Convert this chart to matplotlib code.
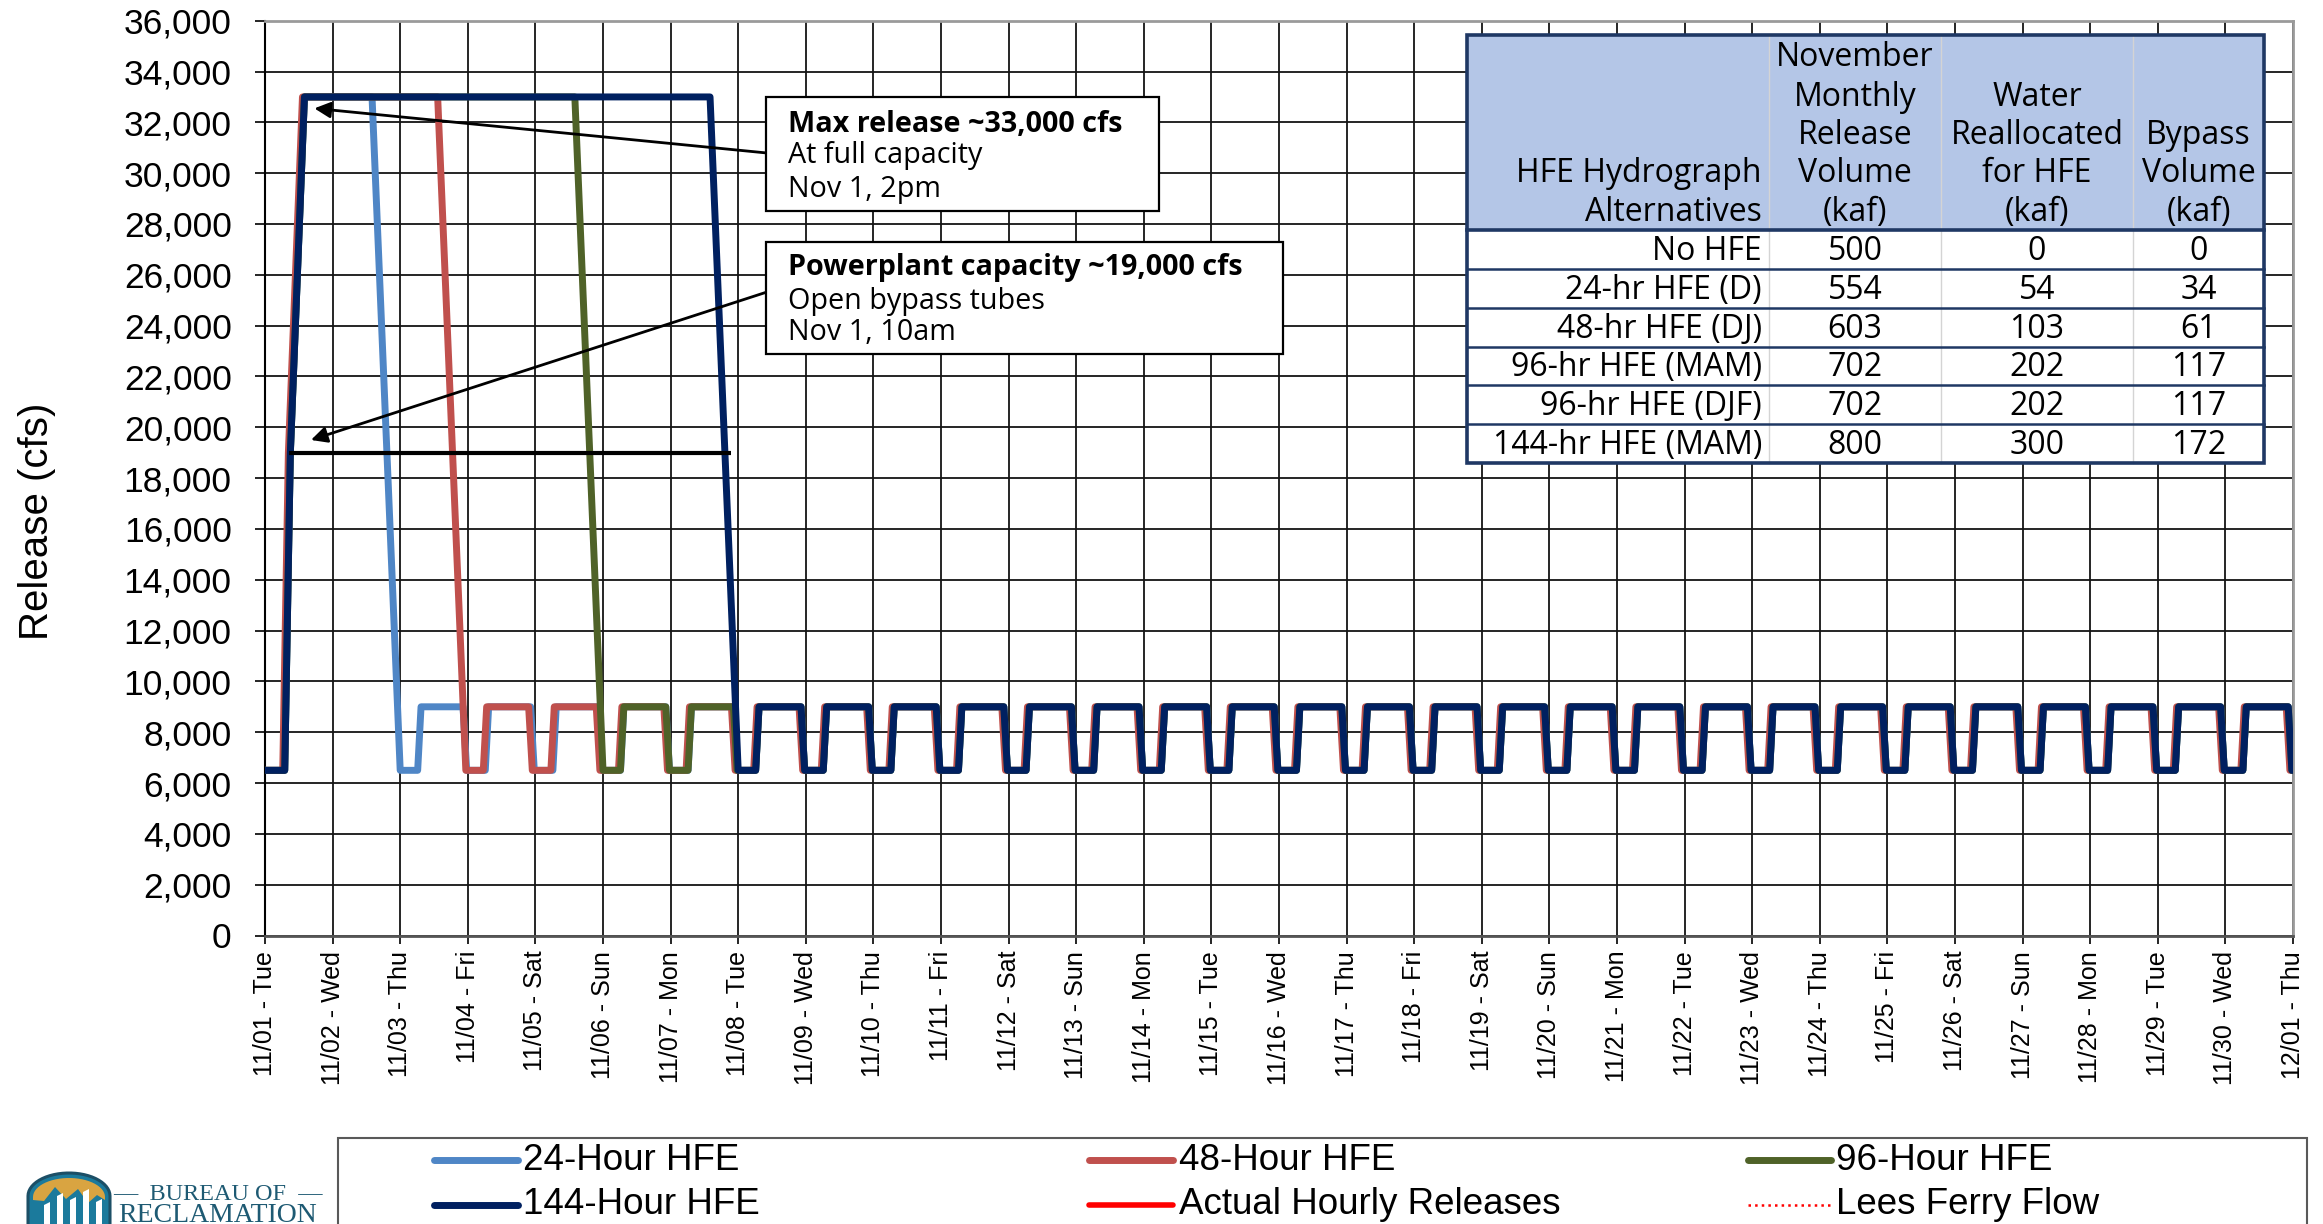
import numpy as np
import matplotlib
matplotlib.use("Agg")
import matplotlib.pyplot as plt
from matplotlib.patches import Rectangle, Polygon
from matplotlib.lines import Line2D
from matplotlib.ticker import FuncFormatter

# ---------------------------------------------------------------- data
N_DAYS = 30
DAY_TICK_LABELS = [
    "11/01 - Tue", "11/02 - Wed", "11/03 - Thu", "11/04 - Fri", "11/05 - Sat",
    "11/06 - Sun", "11/07 - Mon", "11/08 - Tue", "11/09 - Wed", "11/10 - Thu",
    "11/11 - Fri", "11/12 - Sat", "11/13 - Sun", "11/14 - Mon", "11/15 - Tue",
    "11/16 - Wed", "11/17 - Thu", "11/18 - Fri", "11/19 - Sat", "11/20 - Sun",
    "11/21 - Mon", "11/22 - Tue", "11/23 - Wed", "11/24 - Thu", "11/25 - Fri",
    "11/26 - Sat", "11/27 - Sun", "11/28 - Mon", "11/29 - Tue", "11/30 - Wed",
    "12/01 - Thu",
]

# normal daily fluctuation outside the HFE window (hour of day, cfs)
DAY_PROFILE_HOURS = [0.0, 6.2, 7.4, 22.3, 23.6]
DAY_PROFILE_CFS = [6500, 6500, 9000, 9000, 6500]

# ramp-up on Nov 1 (hours after midnight, cfs): bypass tubes open at ~19,000
RAMP_UP_HOURS = [0.0, 7.0, 9.0, 14.0]
RAMP_UP_CFS = [6500, 6500, 19000, 33000]
PEAK_CFS = 33000

SERIES_NAMES = ["24-Hour HFE", "48-Hour HFE", "96-Hour HFE", "144-Hour HFE"]
SERIES_PEAK_HOURS = [24, 48, 96, 144]
SERIES_TIME_OFFSET_H = [0.0, -0.7, 0.0, 0.0]
SERIES_COLORS = ["#4F86C6", "#C0504D", "#4F6228", "#002060"]

EXTRA_LEGEND_NAMES = ["Actual Hourly Releases", "Lees Ferry Flow"]

POWERPLANT_CFS = 19000
POWERPLANT_LINE_DAYS = [0.36, 6.9]

TABLE_ROW_LABELS = ["No HFE", "24-hr HFE (D)", "48-hr HFE (DJ)",
                    "96-hr HFE (MAM)", "96-hr HFE (DJF)", "144-hr HFE (MAM)"]
MONTHLY_RELEASE_KAF = [500, 554, 603, 702, 702, 800]
REALLOCATED_KAF = [0, 54, 103, 202, 202, 300]
BYPASS_KAF = [0, 34, 61, 117, 117, 172]
TABLE_HEADERS = [
    ["", "", "", "HFE Hydrograph", "Alternatives"],
    ["November", "Monthly", "Release", "Volume", "(kaf)"],
    ["", "Water", "Reallocated", "for HFE", "(kaf)"],
    ["", "", "Bypass", "Volume", "(kaf)"],
]


def hfe_trace(peak_hours, offset_h):
    t = list(RAMP_UP_HOURS)
    q = list(RAMP_UP_CFS)
    peak_end = RAMP_UP_HOURS[-1] + peak_hours
    t.append(peak_end)
    q.append(PEAK_CFS)
    first_day = int(np.ceil(peak_end / 24.0))
    for d in range(first_day, N_DAYS):
        for h, v in zip(DAY_PROFILE_HOURS, DAY_PROFILE_CFS):
            t.append(d * 24 + h)
            q.append(v)
    t.append(N_DAYS * 24)
    q.append(DAY_PROFILE_CFS[0])
    return (np.array(t) + offset_h) / 24.0, np.array(q)


# ---------------------------------------------------------------- figure
W, H = 2323, 1224
fig = plt.figure(figsize=(W / 100, H / 100), dpi=100)
fig.patch.set_facecolor("white")


def fx(px):
    return px / W


def fy(py):
    return 1 - py / H


SANS = ["Liberation Sans", "DejaVu Sans"]
CAL = ["Open Sans", "DejaVu Sans"]
SERIF = ["Liberation Serif", "DejaVu Serif"]

ax = fig.add_axes([fx(265), fy(935.5), fx(2293) - fx(265), fy(20.7) - fy(935.5)])

for name, hrs, off, col in zip(SERIES_NAMES, SERIES_PEAK_HOURS,
                               SERIES_TIME_OFFSET_H, SERIES_COLORS):
    x, q = hfe_trace(hrs, off)
    ax.plot(x, q, color=col, lw=5.0, solid_joinstyle="round",
            solid_capstyle="round", label=name, zorder=3)

ax.plot(POWERPLANT_LINE_DAYS, [POWERPLANT_CFS] * 2, color="black", lw=3.0,
        solid_capstyle="butt", zorder=4)

ax.set_xlim(0, N_DAYS)
ax.set_ylim(0, 36000)
ax.set_yticks(np.arange(0, 36001, 2000))
ax.yaxis.set_major_formatter(FuncFormatter(lambda v, p: f"{v:,.0f}"))
ax.set_xticks(np.arange(0, N_DAYS + 1))
ax.set_xticklabels(DAY_TICK_LABELS, rotation=90, family=SANS, fontsize=18)
for lab in ax.get_yticklabels():
    lab.set_family(SANS)
ax.tick_params(axis="y", labelsize=25.5, length=7, width=1.2, pad=17,
               direction="out", colors="black")
ax.tick_params(axis="x", length=6, width=1.2, pad=5, direction="out")
ax.grid(True, color="#141414", lw=1.3)
ax.set_axisbelow(True)
for side in ("top", "right"):
    ax.spines[side].set_color("#9a9a9a")
    ax.spines[side].set_linewidth(2.0)
ax.spines["left"].set_color("black")
ax.spines["left"].set_linewidth(1.5)
ax.spines["bottom"].set_color("#555555")
ax.spines["bottom"].set_linewidth(2.0)

fig.text(fx(37), fy(521), "Release (cfs)", rotation=90, ha="center",
         va="center", fontsize=29, family=SANS)

# ---------------------------------------------------------------- callouts
def callout(left, top, right, bottom, lines):
    fig.add_artist(Rectangle((fx(left), fy(bottom)), fx(right) - fx(left),
                             fy(top) - fy(bottom), transform=fig.transFigure,
                             facecolor="white", edgecolor="black", lw=1.6,
                             zorder=5))
    for (py, txt, bold) in lines:
        fig.text(fx(left + 22), fy(py), txt, ha="left", va="center",
                 fontsize=20.7, family=CAL,
                 fontweight="bold" if bold else "normal", zorder=6)


callout(766, 97, 1159, 210.5, [(124, "Max release ~33,000 cfs", True),
                              (156, "At full capacity", False),
                              (189, "Nov 1, 2pm", False)])
callout(766, 242, 1283, 354, [(268, "Powerplant capacity ~19,000 cfs", True),
                             (301, "Open bypass tubes", False),
                             (333, "Nov 1, 10am", False)])

arrow = dict(arrowstyle="-|>", color="black", lw=2.0, mutation_scale=24,
             shrinkA=0, shrinkB=0)
ax.annotate("", xy=(0.73, 32550), xytext=(fx(767), fy(153)),
            textcoords="figure fraction", arrowprops=arrow,
            annotation_clip=False, zorder=7)
ax.annotate("", xy=(0.68, 19500), xytext=(fx(767), fy(292)),
            textcoords="figure fraction", arrowprops=arrow,
            annotation_clip=False, zorder=7)

# ---------------------------------------------------------------- table
col_edges = [1467, 1769, 1941, 2133, 2264]
t_top, t_head, t_bot = 35, 230, 463
row_edges = np.linspace(t_head, t_bot, len(TABLE_ROW_LABELS) + 1)
NAVY = "#1F3864"
TFS = 23

fig.add_artist(Rectangle((fx(col_edges[0]), fy(t_bot)),
                         fx(col_edges[-1]) - fx(col_edges[0]),
                         fy(t_top) - fy(t_bot), transform=fig.transFigure,
                         facecolor="white", edgecolor="none", zorder=5))
fig.add_artist(Rectangle((fx(col_edges[0]), fy(t_head)),
                         fx(col_edges[-1]) - fx(col_edges[0]),
                         fy(t_top) - fy(t_head), transform=fig.transFigure,
                         facecolor="#B4C6E7", edgecolor="none", zorder=5))
for cx in col_edges[1:-1]:
    fig.add_artist(Line2D([fx(cx)] * 2, [fy(t_top), fy(t_bot)],
                          transform=fig.transFigure, color="#D4D4D4",
                          lw=1.0, zorder=5.5))
for ry in row_edges[1:-1]:
    fig.add_artist(Line2D([fx(col_edges[0]), fx(col_edges[-1])], [fy(ry)] * 2,
                          transform=fig.transFigure, color=NAVY, lw=1.8,
                          zorder=5.6))
fig.add_artist(Line2D([fx(col_edges[0]), fx(col_edges[-1])], [fy(t_head)] * 2,
                      transform=fig.transFigure, color=NAVY, lw=2.6, zorder=5.6))
fig.add_artist(Rectangle((fx(col_edges[0]), fy(t_bot)),
                         fx(col_edges[-1]) - fx(col_edges[0]),
                         fy(t_top) - fy(t_bot), transform=fig.transFigure,
                         facecolor="none", edgecolor=NAVY, lw=2.6, zorder=5.7))

head_lines_y = [58, 97, 135, 173, 212]
for ci, col_lines in enumerate(TABLE_HEADERS):
    for py, txt in zip(head_lines_y, col_lines):
        if not txt:
            continue
        if ci == 0:
            fig.text(fx(col_edges[1] - 7), fy(py), txt, ha="right",
                     va="center", fontsize=TFS, family=CAL, zorder=6)
        else:
            fig.text(fx((col_edges[ci] + col_edges[ci + 1]) / 2), fy(py), txt,
                     ha="center", va="center", fontsize=TFS, family=CAL,
                     zorder=6)

for i, lab in enumerate(TABLE_ROW_LABELS):
    py = (row_edges[i] + row_edges[i + 1]) / 2 + 2
    fig.text(fx(col_edges[1] - 7), fy(py), lab, ha="right", va="center",
             fontsize=TFS, family=CAL, zorder=6)
    for ci, vals in enumerate([MONTHLY_RELEASE_KAF, REALLOCATED_KAF,
                               BYPASS_KAF], start=1):
        fig.text(fx((col_edges[ci] + col_edges[ci + 1]) / 2), fy(py),
                 f"{vals[i]}", ha="center", va="center", fontsize=TFS,
                 family=CAL, zorder=6)

# ---------------------------------------------------------------- legend
fig.add_artist(Rectangle((fx(338), fy(1240)), fx(2307) - fx(338),
                         fy(1138) - fy(1240), transform=fig.transFigure,
                         facecolor="white", edgecolor="#595959", lw=1.5))
leg_names = SERIES_NAMES[:3] + [SERIES_NAMES[3]] + EXTRA_LEGEND_NAMES
leg_colors = SERIES_COLORS[:3] + [SERIES_COLORS[3], "#FF0000", "#FF0000"]
leg_styles = ["-"] * 5 + [":"]
leg_widths = [5.0] * 4 + [4.0, 1.8]
leg_cols = [(434, 518, 523), (1089, 1173, 1179), (1748, 1831, 1836)]
leg_rows = [1160, 1204.5]
for k, (nm, cl, ls, lw) in enumerate(zip(leg_names, leg_colors, leg_styles,
                                         leg_widths)):
    r, c = divmod(k, 3)
    x0, x1, xt = leg_cols[c]
    fig.add_artist(Line2D([fx(x0), fx(x1)], [fy(leg_rows[r])] * 2,
                          transform=fig.transFigure, color=cl, lw=lw, ls=ls,
                          solid_capstyle="round"))
    fig.text(fx(xt), fy(leg_rows[r]), nm, ha="left", va="center",
             fontsize=26.5, family=SANS)

# ---------------------------------------------------------------- logo
arc = np.linspace(np.pi, 0, 30)
shield = [(28, 1230)] + [(69 + 41 * np.cos(a), 1196 - 23 * np.sin(a)) for a in arc] + [(110, 1230)]
fig.add_artist(Polygon([(fx(a), fy(b)) for a, b in shield], closed=True,
                       transform=fig.transFigure, facecolor="#1B7A9C",
                       edgecolor="#1C4F66", lw=2.2))
gold = [(33, 1200)] + [(69 + 36 * np.cos(a), 1197 - 19 * np.sin(a)) for a in arc] + \
       [(105, 1200), (97, 1195), (88, 1203), (78, 1189), (66, 1199), (55, 1187), (44, 1201)]
fig.add_artist(Polygon([(fx(a), fy(b)) for a, b in gold], closed=True,
                       transform=fig.transFigure, facecolor="#D9A441",
                       edgecolor="none"))
for bx, btop in [(44, 1205), (57, 1196), (70, 1200), (83, 1192), (96, 1202)]:
    fig.add_artist(Polygon([(fx(bx), fy(1230)), (fx(bx), fy(btop)),
                            (fx(bx + 6), fy(btop - 3)), (fx(bx + 6), fy(1230))],
                           closed=True, transform=fig.transFigure,
                           facecolor="white", edgecolor="none"))
fig.text(fx(218), fy(1194), "\u2014  BUREAU OF  \u2014", ha="center",
         va="center", fontsize=17.5, family=SERIF, color="#1E5A73")
fig.text(fx(218), fy(1222), "RECLAMATION", ha="center", va="baseline",
         fontsize=20, family=SERIF, color="#1E5A73")

fig.savefig("out.png", dpi=100, facecolor="white")
